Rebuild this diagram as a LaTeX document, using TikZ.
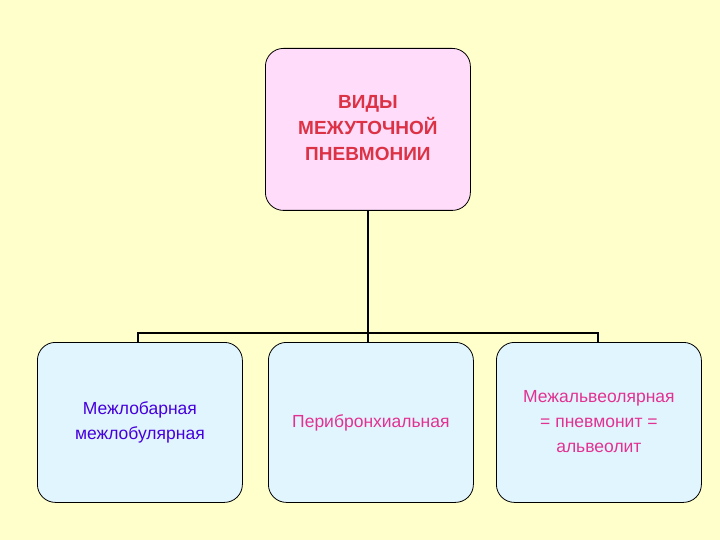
\documentclass[tikz,border=0pt]{standalone}
\usepackage{fontspec}
\setmainfont{Liberation Sans}
\begin{document}
\begin{tikzpicture}[x=1pt,y=-1pt,
 box/.style={draw=black,line width=0.8pt,rounded corners=18pt,anchor=north west,inner sep=0pt,align=center},
 link/.style={line width=1.8pt}]
\fill[fill={rgb,255:red,255;green,255;blue,204}] (0,0) rectangle (720,540);
\node[box,fill={rgb,255:red,255;green,220;blue,250},minimum width=205pt,minimum height=162pt,text={rgb,255:red,220;green,50;blue,70},font=\bfseries\fontsize{19}{26}\selectfont] (top) at (265,48) {\raisebox{16pt}{\begin{tabular}{c}ВИДЫ\\МЕЖУТОЧНОЙ\\ПНЕВМОНИИ\end{tabular}}};
\tikzset{bb/.style={box,fill={rgb,255:red,225;green,245;blue,255},minimum width=205pt,minimum height=160pt,font=\fontsize{17.5}{25}\selectfont}}
\node[bb,text={rgb,255:red,70;green,0;blue,220}] (a) at (37,342) {Межлобарная\\межлобулярная};
\node[bb,text={rgb,255:red,225;green,50;blue,145}] (b) at (268,342) {Перибронхиальная};
\node[bb,text={rgb,255:red,225;green,50;blue,145}] (c) at (496,342) {\raisebox{12pt}{\begin{tabular}{c}Межальвеолярная\\= пневмонит =\\альвеолит\end{tabular}}};
\coordinate (j) at (368,333);
\draw[link] (top.south -| j) -- (j);
\draw[link] (a.north -| 138,0) |- (j) -| (c.north -| 598,0);
\draw[link] (j) -- (b.north -| j);
\end{tikzpicture}
\end{document}
